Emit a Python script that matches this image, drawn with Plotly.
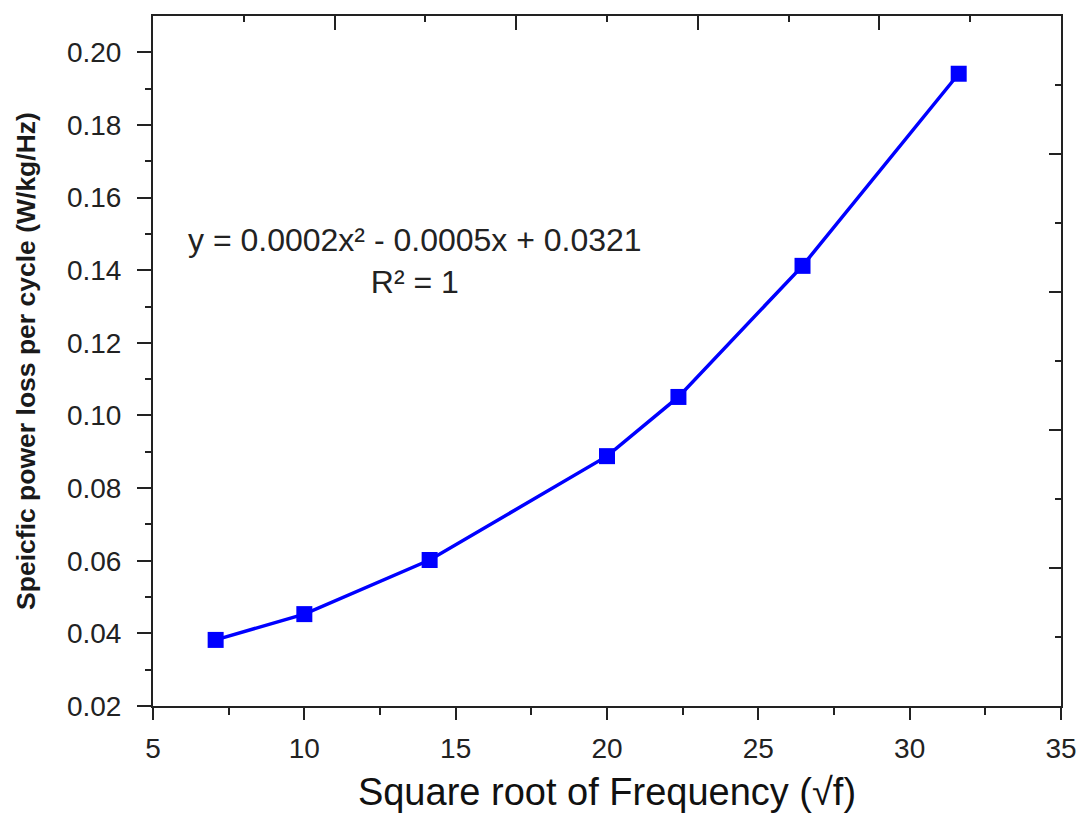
import plotly.graph_objects as go

# Data
sqrt_f = [7.07, 10.0, 14.14, 20.0, 22.36, 26.46, 31.62]
loss_per_cycle = [0.0382, 0.0453, 0.0602, 0.0888, 0.1051, 0.1412, 0.1941]

x_ticks = [5, 10, 15, 20, 25, 30, 35]
y_ticks = [0.02, 0.04, 0.06, 0.08, 0.10, 0.12, 0.14, 0.16, 0.18, 0.20]
top_major = [11, 17, 23, 29]
top_minor = [8, 14, 20, 26, 32]
right_major = [0.058, 0.096, 0.134, 0.172]
right_minor = [0.039, 0.077, 0.115, 0.153, 0.191]

FONT = "Liberation Sans, Arial, sans-serif"
BLUE = "#0000FF"

fig = go.Figure()
fig.add_trace(go.Scatter(
    x=sqrt_f, y=loss_per_cycle, mode="lines+markers",
    line=dict(color=BLUE, width=3.5),
    marker=dict(symbol="square", size=16, color=BLUE),
    showlegend=False, hoverinfo="x+y",
))
# dummy trace so the mirrored axes are drawn
fig.add_trace(go.Scatter(x=[None], y=[None], xaxis="x2", yaxis="y2",
                         showlegend=False, hoverinfo="skip"))

fig.add_annotation(
    x=13.66, y=0.1425, xref="x", yref="y",
    text="y = 0.0002x² - 0.0005x + 0.0321<br>R² = 1",
    showarrow=False, align="center",
    font=dict(family=FONT, size=32, color="#222222"),
)

axis_common = dict(showline=True, linecolor="#222222", linewidth=2,
                   showgrid=False, zeroline=False, automargin=False)

fig.update_layout(
    width=1078, height=814,
    paper_bgcolor="white", plot_bgcolor="white",
    margin=dict(l=153, r=17, t=16, b=108),
    font=dict(family=FONT, color="#222222"),
    xaxis=dict(
        range=[5, 35], tickvals=x_ticks, ticktext=[str(v) for v in x_ticks],
        ticks="outside", ticklen=12, tickwidth=2, tickcolor="#222222",
        tickfont=dict(size=28, family=FONT, color="#222222"),
        ticklabelstandoff=4,
        minor=dict(tickvals=[7.5, 12.5, 17.5, 22.5, 27.5, 32.5], ticks="outside",
                   ticklen=7, tickwidth=2, tickcolor="#222222"),
        title=dict(text="Square root of Frequency (√f)",
                   font=dict(size=38, family=FONT, color="#111111"), standoff=16),
        **axis_common,
    ),
    yaxis=dict(
        range=[0.02, 0.21], tickvals=y_ticks, ticktext=[f"{v:.2f}" for v in y_ticks],
        ticks="outside", ticklen=14, tickwidth=2, tickcolor="#222222",
        tickfont=dict(size=28, family=FONT, color="#222222"),
        ticklabelstandoff=10,
        minor=dict(tickvals=[0.03, 0.05, 0.07, 0.09, 0.11, 0.13, 0.15, 0.17, 0.19],
                   ticks="outside", ticklen=6, tickwidth=2, tickcolor="#222222"),
        title=dict(text="<b>Speicfic power loss per cycle (W/kg/Hz)</b>",
                   font=dict(size=26.5, family=FONT, color="#1a1a1a"), standoff=24),
        **axis_common,
    ),
    xaxis2=dict(
        overlaying="x", side="top", anchor="y", range=[5, 35],
        tickvals=top_major, ticks="inside", ticklen=14, tickwidth=2,
        tickcolor="#222222", showticklabels=False,
        minor=dict(tickvals=top_minor, ticks="inside", ticklen=6, tickwidth=2,
                   tickcolor="#222222"),
        **axis_common,
    ),
    yaxis2=dict(
        overlaying="y", side="right", anchor="x", range=[0.02, 0.21],
        tickvals=right_major, ticks="inside", ticklen=12, tickwidth=2,
        tickcolor="#222222", showticklabels=False,
        minor=dict(tickvals=right_minor, ticks="inside", ticklen=6, tickwidth=2,
                   tickcolor="#222222"),
        **axis_common,
    ),
)

fig.write_html("out.html")
